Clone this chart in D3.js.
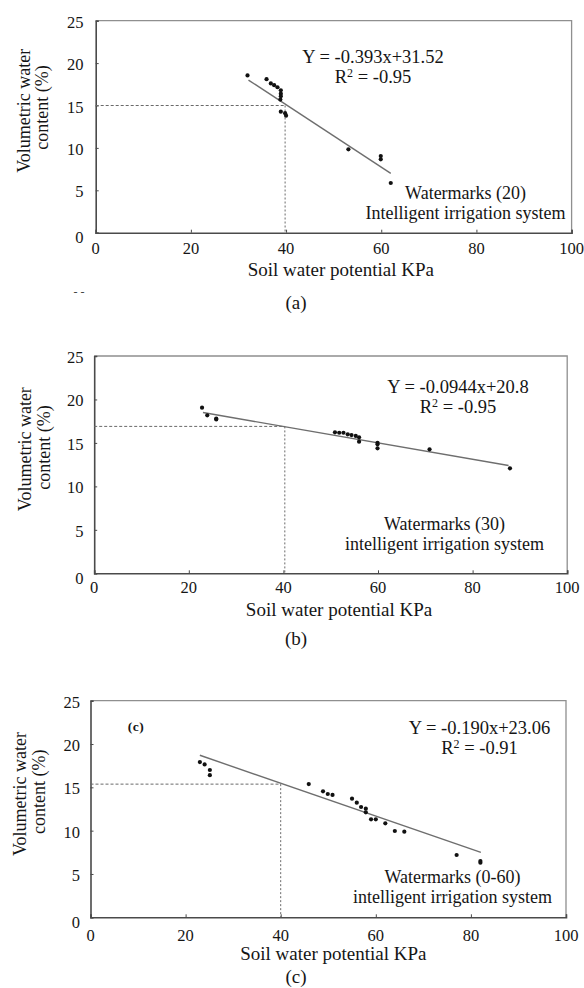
<!DOCTYPE html>
<html><head><meta charset="utf-8">
<script src="https://cdn.jsdelivr.net/npm/d3@7"></script>
<style>
body{margin:0;background:#fff}
text{font-family:"Liberation Serif","Times New Roman",serif;fill:#151515}
</style>
</head><body>
<svg id="chart" width="584" height="988"></svg>
<script>
// ---- data ----
const xTicks = [0, 20, 40, 60, 80, 100];
const yTicks = [0, 5, 10, 15, 20, 25];
const xDomain = [0, 100];
const yDomain = [0, 25];
const xTitle = "Soil water potential KPa";
const yTitle1 = "Volumetric water";
const yTitle2 = "content (%)";
const panelCaptions = ["(a)", "(b)", "(c)"];
const equations = ["Y = -0.393x+31.52", "Y = -0.0944x+20.8", "Y = -0.190x+23.06"];
const rSquared = ["-0.95", "-0.95", "-0.91"];
const legend1 = ["Watermarks (20)", "Watermarks (30)", "Watermarks (0-60)"];
const legend2 = ["Intelligent irrigation system", "intelligent irrigation system", "intelligent irrigation system"];

const xA = [31.9, 35.9, 36.8, 37.5, 38.2, 38.9, 38.9, 38.9, 38.8, 38.9, 39.8, 40.0, 53.1, 59.9, 59.9, 62.0];
const yA = [18.55, 18.1, 17.6, 17.4, 17.15, 16.8, 16.4, 16.1, 15.7, 14.27, 14.1, 13.8, 9.83, 9.04, 8.65, 5.86];
const fitA = [[32.1, 18.0], [62.0, 7.0]];
const guideA = [39.8, 15.0];

const xB = [22.8, 23.9, 25.8, 25.8, 50.9, 51.8, 52.7, 53.6, 54.4, 55.3, 56.0, 56.0, 59.9, 59.9, 59.9, 70.9, 87.9];
const yB = [19.06, 18.17, 17.8, 17.7, 16.22, 16.17, 16.17, 15.99, 15.9, 15.8, 15.64, 15.14, 15.02, 14.84, 14.38, 14.26, 12.08];
const fitB = [[23.0, 18.5], [87.6, 12.4]];
const guideB = [40.3, 16.9];

const xC = [23.0, 24.0, 25.1, 25.1, 45.9, 48.9, 49.9, 50.9, 55.0, 56.0, 56.9, 57.9, 57.9, 59.0, 60.0, 62.0, 64.0, 66.0, 77.0, 82.0, 82.0];
const yC = [17.92, 17.65, 17.0, 16.4, 15.38, 14.54, 14.23, 14.12, 13.69, 13.23, 12.73, 12.54, 12.12, 11.31, 11.31, 10.85, 9.96, 9.88, 7.19, 6.5, 6.3];
const fitC = [[23.0, 18.7], [82.1, 7.5]];
const guideC = [40.0, 15.37];

// ---- layout ----
const panels = [
  {xs: xA, ys: yA, fit: fitA, guide: guideA, L: 95.7, R: 571.6, T: 20.7, B: 232.7,
   eqX: 373, eqY: 63, lgX: 465.6, lgY: 199, tickLblY: 254, titleX: 340.8, titleY: 275.5, capY: 308.5,
   yt1X: 29.5, yt1Y: 110.8, yt2X: 48, yt2Y: 107.5, yLblR: 83.5},
  {xs: xB, ys: yB, fit: fitB, guide: guideB, L: 94.2, R: 567.2, T: 356, B: 573.3,
   eqX: 458, eqY: 393.3, lgX: 444.5, lgY: 530, tickLblY: 593.3, titleX: 339, titleY: 615.7, capY: 645,
   yt1X: 31, yt1Y: 449.2, yt2X: 50, yt2Y: 447.5, yLblR: 83.5},
  {xs: xC, ys: yC, fit: fitC, guide: guideC, L: 90.5, R: 566, T: 700.7, B: 917.3,
   eqX: 479.5, eqY: 734, lgX: 452.5, lgY: 883.3, tickLblY: 940.7, titleX: 333.3, titleY: 960, capY: 983,
   yt1X: 26, yt1Y: 794, yt2X: 44.5, yt2Y: 791.7, yLblR: 80}
];

const svg = d3.select("#chart");

panels.forEach((p, i) => {
  const x = d3.scaleLinear().domain(xDomain).range([p.L, p.R]);
  const y = d3.scaleLinear().domain(yDomain).range([p.B, p.T]);
  const g = svg.append("g");

  // frame (top/right lighter)
  g.append("path")
    .attr("d", `M${p.L},${p.T}H${p.R}V${p.B}`)
    .attr("fill", "none").attr("stroke", "#8f8f8f").attr("stroke-width", 1.3);

  // axes with inward ticks
  const xAxis = d3.axisBottom(x).tickValues(xTicks).tickSize(-3).tickFormat("");
  const yAxis = d3.axisLeft(y).tickValues(yTicks).tickSize(-3).tickFormat("");
  const gx = g.append("g").attr("transform", `translate(0,${p.B})`).call(xAxis);
  const gy = g.append("g").attr("transform", `translate(${p.L},0)`).call(yAxis);
  [gx, gy].forEach(a => {
    a.select(".domain").attr("stroke", "#4a4a4a").attr("stroke-width", 1.6);
    a.selectAll(".tick line").attr("stroke", "#4a4a4a").attr("stroke-width", 1);
  });

  // tick labels
  g.selectAll(".xl").data(xTicks).enter().append("text")
    .attr("x", d => x(d)).attr("y", p.tickLblY)
    .attr("text-anchor", "middle").style("font-size", "16.5px").text(d => d);
  g.selectAll(".yl").data(yTicks).enter().append("text")
    .attr("x", p.yLblR).attr("y", d => y(d) + (d === 0 ? 10.5 : 7))
    .attr("text-anchor", "end").style("font-size", "16.5px").text(d => d);

  // guides
  const [gxv, gyv] = p.guide;
  g.append("line").attr("x1", x(0)).attr("x2", x(gxv)).attr("y1", y(gyv)).attr("y2", y(gyv))
    .attr("stroke", "#6a6a6a").attr("stroke-width", 1).attr("stroke-dasharray", "3,2");
  g.append("line").attr("x1", x(gxv)).attr("x2", x(gxv)).attr("y1", y(gyv)).attr("y2", y(0))
    .attr("stroke", "#6a6a6a").attr("stroke-width", 1).attr("stroke-dasharray", "2,2");

  // fit line
  g.append("path").datum(p.fit)
    .attr("d", d3.line().x(d => x(d[0])).y(d => y(d[1])))
    .attr("stroke", "#6e6e6e").attr("stroke-width", 1.4).attr("fill", "none");

  // points
  g.selectAll(".pt").data(p.xs.map((v, k) => [v, p.ys[k]])).enter().append("circle")
    .attr("cx", d => x(d[0])).attr("cy", d => y(d[1])).attr("r", 2.1).attr("fill", "#111");

  // equation
  g.append("text").attr("x", p.eqX).attr("y", p.eqY).attr("text-anchor", "middle")
    .style("font-size", "18.5px").text(equations[i]);
  const r2 = g.append("text").attr("x", p.eqX).attr("y", p.eqY + 20).attr("text-anchor", "middle")
    .style("font-size", "18.5px");
  r2.append("tspan").text("R");
  r2.append("tspan").attr("dy", -6).style("font-size", "12px").text("2");
  r2.append("tspan").attr("dy", 6).text(" = " + rSquared[i]);

  // legend text
  g.append("text").attr("x", p.lgX).attr("y", p.lgY).attr("text-anchor", "middle")
    .style("font-size", "18px").text(legend1[i]);
  g.append("text").attr("x", p.lgX).attr("y", p.lgY + 19.5).attr("text-anchor", "middle")
    .style("font-size", "18px").text(legend2[i]);

  // axis titles
  g.append("text").attr("x", p.titleX).attr("y", p.titleY).attr("text-anchor", "middle")
    .style("font-size", "19px").text(xTitle);
  g.append("text").attr("transform", `translate(${p.yt1X},${p.yt1Y}) rotate(-90)`)
    .attr("text-anchor", "middle").style("font-size", "18px").text(yTitle1);
  g.append("text").attr("transform", `translate(${p.yt2X},${p.yt2Y}) rotate(-90)`)
    .attr("text-anchor", "middle").style("font-size", "18px").text(yTitle2);

  // caption
  g.append("text").attr("x", 296).attr("y", p.capY).attr("text-anchor", "middle")
    .style("font-size", "19px").text(panelCaptions[i]);
});

// inner panel tag in (c)
svg.append("text").attr("x", 136).attr("y", 731).attr("text-anchor", "middle")
  .style("font-size", "13.5px").style("font-weight", "bold").style("letter-spacing", "0.5px").text("(c)");
// stray marks under panel (a)
svg.append("text").attr("x", 79).attr("y", 296).attr("text-anchor", "middle")
  .style("font-size", "12px").style("fill", "#444").text("- -");
</script>
</body></html>
